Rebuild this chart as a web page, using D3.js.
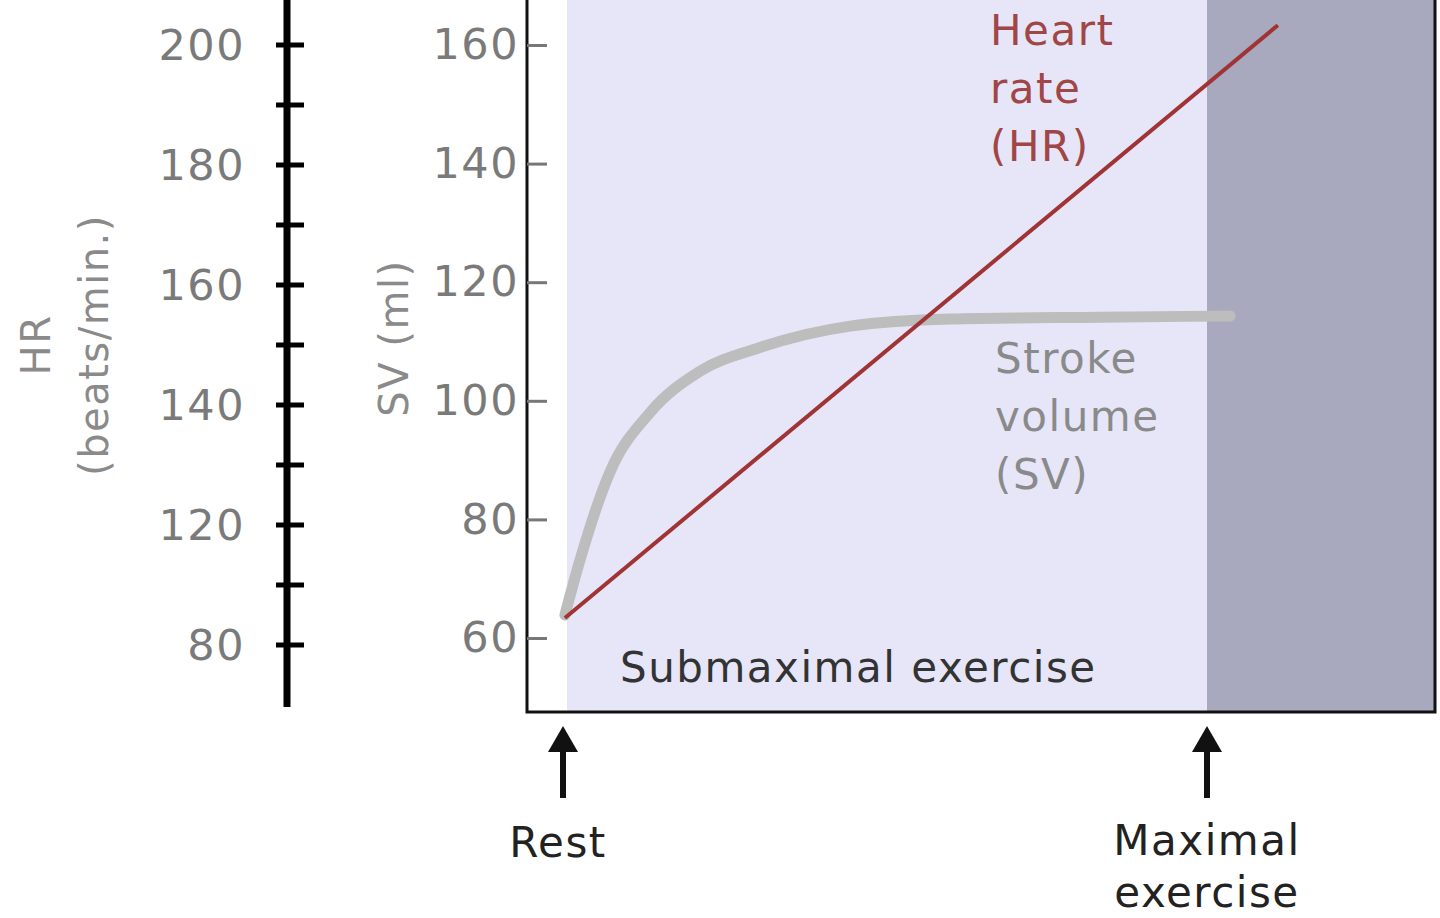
<!DOCTYPE html>
<html><head><meta charset="utf-8">
<script src="https://cdn.jsdelivr.net/npm/d3@7"></script>
<style>body{margin:0;background:#fff}svg{display:block;font-family:"DejaVu Sans",Verdana,sans-serif;letter-spacing:1.5px}</style>
</head><body><svg id="c" width="1440" height="918"></svg>
<script>
// data
const hrTickLabels = ["200", "180", "160", "140", "120", "80"]
const svTicks = [60, 80, 100, 120, 140, 160]
const intensity = [0.003, 0.026, 0.073, 0.135, 0.213, 0.306, 0.446, 0.601, 0.834, 1.036]
const strokeVolume = [63.9, 73, 88, 98, 105, 109, 112.6, 113.8, 114.1, 114.3]
const hrIntensity = [0.003, 1.11]
const heartRate = [104.5, 203.3]

const svg = d3.select('#c')
const x = d3.scaleLinear().domain([0, 1]).range([563, 1207])
const ySV = d3.scaleLinear().domain([60, 160]).range([638, 45])
const yHR = d3.scaleLinear().domain([100, 200]).range([645, 45])
const hrPos = d3.scalePoint().domain(hrTickLabels).range([45, 645])
const grey = '#7a7a7a'

// shaded zones
svg.append('rect').attr('x', 567).attr('y', 0).attr('width', 1207 - 567).attr('height', 712).attr('fill', '#e6e6f8')
svg.append('rect').attr('x', 1207).attr('y', 0).attr('width', 1435 - 1207).attr('height', 712).attr('fill', '#a8a8be')
svg.append('path').attr('d', 'M527,0V712H1435V0').attr('fill', 'none').attr('stroke', '#111').attr('stroke-width', 3)

// HR axis (standalone)
svg.append('line').attr('x1', 287).attr('x2', 287).attr('y1', 0).attr('y2', 707).attr('stroke', '#000').attr('stroke-width', 7)
const step = hrPos.step()
const minor = d3.range(-1, hrTickLabels.length + 0.5, 0.5).map(i => 45 + i * step).filter(v => v > 0 && v < 700)
svg.selectAll('.mt').data(minor).join('line')
  .attr('x1', 276).attr('x2', 304).attr('y1', d => d).attr('y2', d => d)
  .attr('stroke', '#000').attr('stroke-width', 5)
svg.selectAll('.hl').data(hrTickLabels).join('text')
  .attr('x', 245).attr('y', d => hrPos(d)).attr('dy', '0.35em').attr('text-anchor', 'end')
  .attr('font-size', 43).attr('fill', grey).text(d => d)

// SV axis
const svAxis = svg.append('g').attr('transform', 'translate(527,0)')
  .call(d3.axisLeft(ySV).tickValues(svTicks).tickSize(-20).tickPadding(12))
svAxis.select('.domain').remove()
svAxis.selectAll('line').attr('stroke', '#777').attr('stroke-width', 3)
svAxis.selectAll('text').attr('font-size', 43).attr('fill', grey).attr('x', -8).attr('font-family', '"DejaVu Sans",sans-serif')

// axis titles
svg.append('text').attr('transform', 'translate(50,345) rotate(-90)').attr('text-anchor', 'middle')
  .attr('font-size', 40).attr('fill', '#8a8a8a').text('HR')
svg.append('text').attr('transform', 'translate(108,345) rotate(-90)').attr('text-anchor', 'middle')
  .attr('font-size', 40).attr('fill', '#8a8a8a').text('(beats/min.)')
svg.append('text').attr('transform', 'translate(408,338) rotate(-90)').attr('text-anchor', 'middle')
  .attr('font-size', 40).attr('fill', '#8a8a8a').text('SV (ml)')

// lines
svg.append('path').datum(d3.zip(intensity, strokeVolume))
  .attr('d', d3.line().x(d => x(d[0])).y(d => ySV(d[1])).curve(d3.curveMonotoneX))
  .attr('fill', 'none').attr('stroke', '#bdbdbd').attr('stroke-width', 11).attr('stroke-linecap', 'round')
svg.append('path').datum(d3.zip(hrIntensity, heartRate))
  .attr('d', d3.line().x(d => x(d[0])).y(d => yHR(d[1])))
  .attr('fill', 'none').attr('stroke', '#a03434').attr('stroke-width', 4)

// labels
const lines = (arr, x0, y0, dy, col, anchor) => arr.forEach((t, i) =>
  svg.append('text').attr('x', x0).attr('y', y0 + i * dy).attr('font-size', 42)
    .attr('fill', col).attr('text-anchor', anchor || 'start').text(t))
lines(['Heart', 'rate', '(HR)'], 990, 45, 58, '#a04646')
lines(['Stroke', 'volume', '(SV)'], 995, 373, 58, '#8a8a8a')
lines(['Submaximal exercise'], 620, 682, 0, '#333')
lines(['Rest'], 558, 857, 0, '#222', 'middle')
lines(['Maximal', 'exercise'], 1207, 855, 52, '#222', 'middle')

// arrows
;[0, 1].forEach(t => {
  svg.append('line').attr('x1', x(t)).attr('x2', x(t)).attr('y1', 745).attr('y2', 798).attr('stroke', '#111').attr('stroke-width', 6)
  svg.append('path').attr('d', `M${x(t) - 15},752L${x(t)},726L${x(t) + 15},752Z`).attr('fill', '#111')
})
</script></body></html>
